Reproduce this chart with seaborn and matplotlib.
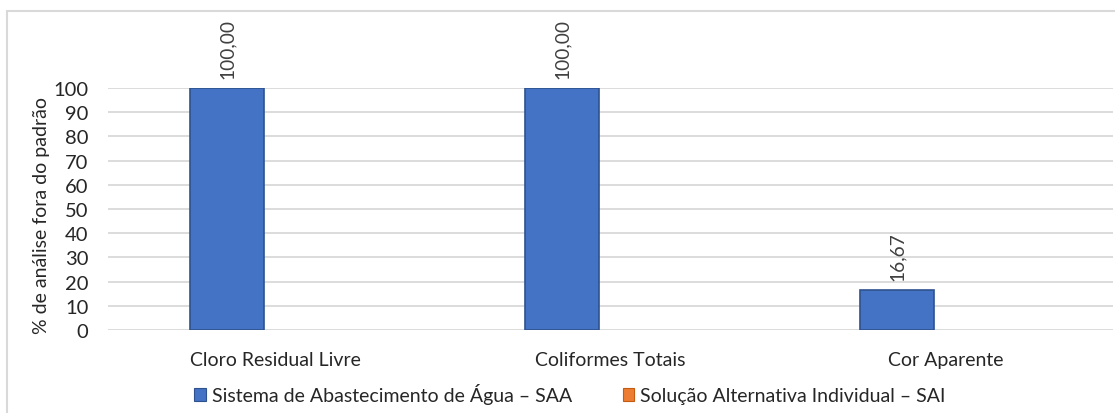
import matplotlib
matplotlib.use("Agg")
import matplotlib.pyplot as plt
import matplotlib.patches as mpatches
import seaborn as sns
import pandas as pd

categories = ["Cloro Residual Livre", "Coliformes Totais", "Cor Aparente"]
series_names = ["Sistema de Abastecimento de Água – SAA",
                "Solução Alternativa Individual – SAI"]
saa_values = [100.00, 100.00, 16.67]
sai_values = [0.0, 0.0, 0.0]
y_ticks = [0, 10, 20, 30, 40, 50, 60, 70, 80, 90, 100]
y_label = "% de análise fora do padrão"

colors = {series_names[0]: "#4472C4", series_names[1]: "#ED7D31"}

df = pd.DataFrame({
    "categoria": categories * 2,
    "serie": [series_names[0]] * 3 + [series_names[1]] * 3,
    "valor": saa_values + sai_values,
})

sns.set_theme(style="white")
plt.rcParams["font.family"] = ["Lato", "DejaVu Sans"]

W, H = 1115, 414
fig = plt.figure(figsize=(W / 100, H / 100), dpi=100)
ax = fig.add_axes([108 / W, (H - 331) / H, 1005 / W, 242 / H])

sns.barplot(data=df, x="categoria", y="valor", hue="serie", palette=colors,
            width=0.58, gap=0.23, ax=ax, legend=False, saturation=1)

for i, cont in enumerate(ax.containers):
    for p in cont:
        if i == 0:
            p.set_edgecolor("#2F528F")
            p.set_linewidth(1.2)
        else:
            p.set_linewidth(0)

ax.bar_label(ax.containers[0],
             labels=[f"{v:.2f}".replace(".", ",") for v in saa_values],
             rotation=90, padding=7, fontsize=13.8, color="#404040")

ax.set_ylim(0, 100)
ax.set_yticks(y_ticks)
ax.set_xlim(-0.5, 2.5)
ax.grid(axis="y", color="#D9D9D9", linewidth=1.3)
ax.set_axisbelow(True)
for s in ax.spines.values():
    s.set_visible(False)
ax.tick_params(axis="y", length=0, pad=14, labelsize=14.5, labelcolor="#262626")
ax.tick_params(axis="x", length=0, pad=15, labelsize=14, labelcolor="#262626")
ax.set_xlabel("")
ax.set_ylabel(y_label, fontsize=14, color="#262626")
ax.yaxis.set_label_coords((50 - 108) / 1005, (331 - 216) / 242)

handles = [mpatches.Patch(facecolor=colors[n], edgecolor="#2F528F" if i == 0 else "#C55A11",
                          linewidth=0.8) for i, n in enumerate(series_names)]
fig.legend(handles, series_names, loc="center", bbox_to_anchor=(570 / W, (H - 395) / H),
           ncol=2, frameon=False, fontsize=14, handlelength=0.6, handleheight=0.6,
           handletextpad=0.3, columnspacing=2.6, labelcolor="#262626")

border = mpatches.Rectangle((7 / W, -0.1), 1.2, (H - 12) / H + 0.1, transform=fig.transFigure,
                            fill=False, edgecolor="#D9D9D9", linewidth=1.5)
fig.patches.append(border)

fig.savefig("out.png", dpi=100, facecolor="white")
